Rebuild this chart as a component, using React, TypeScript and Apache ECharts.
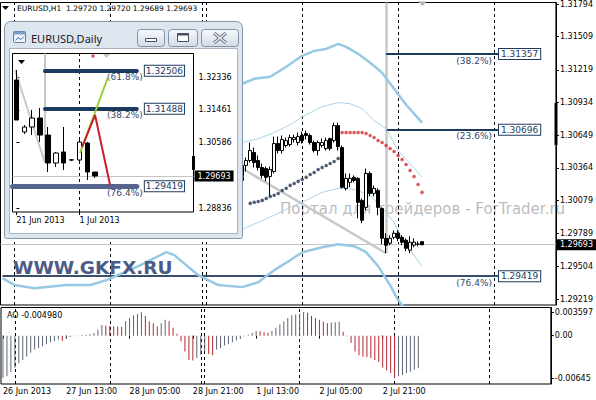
import React, { useEffect, useRef } from "react";
import * as echarts from "echarts";

const FONT = "DejaVu Sans";

// ---------------- Main EURUSD,H1 chart ----------------
const MAIN_SLOTS = 139; // 4px per hourly bar incl. right shift
const FIRST_BAR = 60; // bars before this are hidden behind the Daily window
const HEADER = "EURUSD,H1  1.29720 1.29720 1.29689 1.29693";
const TIME_LABELS = ["26 Jun 2013", "27 Jun 13:00", "28 Jun 05:00", "28 Jun 21:00", "1 Jul 13:00", "2 Jul 05:00", "2 Jul 21:00"];
const LABEL_STEP = 16;
const DAY_SEPARATORS = [3, 27, 50, 51, 75, 99, 123];
const PRICE_TICKS = [1.31794, 1.31509, 1.31219, 1.30934, 1.30649, 1.30364, 1.30079, 1.29789, 1.29504, 1.29219];
const PRICE_MIN = 1.29167;
const PRICE_MAX = 1.31807;
const LAST_PRICE = 1.29693;

// [open, close, low, high] for bars 60..105
const CANDLES = [
  [1.30385, 1.30254, 1.30194, 1.30446],
  [1.30385, 1.30428, 1.30332, 1.30454],
  [1.30428, 1.30515, 1.30411, 1.30585],
  [1.30498, 1.30411, 1.30367, 1.30541],
  [1.30428, 1.30367, 1.30341, 1.30472],
  [1.30367, 1.30298, 1.30272, 1.30402],
  [1.30358, 1.30281, 1.30246, 1.30376],
  [1.30289, 1.30350, 1.30115, 1.30376],
  [1.30332, 1.30576, 1.30315, 1.30637],
  [1.30576, 1.30515, 1.30489, 1.30637],
  [1.30515, 1.30611, 1.30489, 1.30646],
  [1.30559, 1.30602, 1.30541, 1.30628],
  [1.30567, 1.30628, 1.30550, 1.30654],
  [1.30611, 1.30628, 1.30585, 1.30654],
  [1.30585, 1.30637, 1.30559, 1.30672],
  [1.30646, 1.30602, 1.30576, 1.30680],
  [1.30663, 1.30646, 1.30611, 1.30689],
  [1.30646, 1.30585, 1.30567, 1.30663],
  [1.30585, 1.30515, 1.30498, 1.30602],
  [1.30515, 1.30585, 1.30472, 1.30602],
  [1.30559, 1.30585, 1.30541, 1.30619],
  [1.30532, 1.30602, 1.30515, 1.30628],
  [1.30619, 1.30532, 1.30515, 1.30628],
  [1.30602, 1.30733, 1.30585, 1.30759],
  [1.30733, 1.30550, 1.30515, 1.30759],
  [1.30541, 1.30194, 1.30185, 1.30559],
  [1.30185, 1.30272, 1.30167, 1.30315],
  [1.30237, 1.30272, 1.30194, 1.30315],
  [1.30281, 1.30254, 1.30237, 1.30298],
  [1.30272, 1.30063, 1.29923, 1.30281],
  [1.30080, 1.29906, 1.29880, 1.30097],
  [1.30019, 1.30315, 1.29993, 1.30358],
  [1.30315, 1.30141, 1.30115, 1.30332],
  [1.30141, 1.30185, 1.30115, 1.30211],
  [1.30167, 1.30019, 1.29950, 1.30185],
  [1.30010, 1.29749, 1.29697, 1.30019],
  [1.29749, 1.29689, 1.29619, 1.29793],
  [1.29706, 1.29749, 1.29689, 1.29776],
  [1.29758, 1.29793, 1.29741, 1.29819],
  [1.29793, 1.29749, 1.29723, 1.29819],
  [1.29758, 1.29715, 1.29689, 1.29776],
  [1.29732, 1.29662, 1.29636, 1.29749],
  [1.29645, 1.29715, 1.29619, 1.29767],
  [1.29689, 1.29715, 1.29671, 1.29749],
  [1.29697, 1.29700, 1.29680, 1.29723],
  [1.29720, 1.29693, 1.29689, 1.29720],
];

// Parabolic SAR
const SAR_BELOW_START = 62;
const SAR_BELOW = [1.30054, 1.30063, 1.30071, 1.30080, 1.30097, 1.30115, 1.30124, 1.30141, 1.30167, 1.30185, 1.30211, 1.30228, 1.30246, 1.30263, 1.30281, 1.30306, 1.30324, 1.30350, 1.30367, 1.30385, 1.30402, 1.30419, 1.30446];
const SAR_ABOVE_START = 85;
const SAR_ABOVE = [1.30672, 1.30672, 1.30672, 1.30672, 1.30672, 1.30672, 1.30663, 1.30646, 1.30628, 1.30602, 1.30585, 1.30559, 1.30532, 1.30506, 1.30472, 1.30437, 1.30394, 1.30341, 1.30289, 1.30219, 1.30150];
const SAR_ABOVE_EARLY = [[60, 1.30289]];

// Bollinger-type bands, [bar, price]
const BAND_UPPER_OUTER = [[60, 1.31098], [63, 1.31141], [67, 1.31159], [71, 1.31246], [75, 1.31342], [78, 1.31385], [81, 1.31402], [84, 1.31446], [86, 1.31420], [89, 1.31359], [92, 1.31281], [95, 1.31194], [98, 1.31054], [101, 1.30915], [103, 1.30837], [105, 1.30759]];
const BAND_UPPER_INNER = [[60, 1.30585], [64, 1.30619], [68, 1.30672], [72, 1.30741], [76, 1.30828], [80, 1.30898], [84, 1.30933], [87, 1.30924], [90, 1.30880], [93, 1.30776], [96, 1.30706], [99, 1.30515], [102, 1.30402], [105, 1.30281]];
const BAND_LOWER_INNER = [[60, 1.29828], [64, 1.29889], [68, 1.29950], [72, 1.30019], [76, 1.30080], [80, 1.30150], [84, 1.30185], [88, 1.30176], [92, 1.30124], [95, 1.30010], [98, 1.29889], [100, 1.29749], [102, 1.29645], [105, 1.29506]];
const BAND_LOWER_OUTER = [[0, 1.29401], [3, 1.29341], [8, 1.29314], [16, 1.29341], [22, 1.29341], [26, 1.29384], [34, 1.29506], [41, 1.29628], [43, 1.29602], [49, 1.29427], [54, 1.29341], [60, 1.29323], [64, 1.29366], [68, 1.29471], [72, 1.29558], [75, 1.29628], [80, 1.29671], [84, 1.29697], [88, 1.29680], [91, 1.29628], [94, 1.29506], [97, 1.29341], [99, 1.29210], [102, 1.29080], [105, 1.28966]];

// Fibonacci levels on the H1 chart
const FIB_LEVELS = [1.31357, 1.30696, 1.29419];
const FIB_PCTS = ["(38.2%)", "(23.6%)", "(76.4%)"];
const FIB_FROM = [96, 96, 0];
const FIB_TO = 124;
const FIB_PCT_TO = 123;
const GRAY_DIAGONAL = [[60, 1.30358], [96, 1.29619]];
const GRAY_VERTICAL = [[96, 1.31807], [96, 1.29619]];

// Awesome Oscillator, bars 0..105
const AO = [
  -0.0064, -0.0062, -0.0055, -0.0049, -0.0042, -0.0037, -0.0032, -0.0026, -0.0021, -0.0019,
  -0.0016, -0.0013, -0.001, -0.0008, -0.0006, -0.0008, -0.0004, -0.0002, -0.00008, 0.00003,
  0.00008, 0.00015, 0.00025, 0.0004, 0.0009, 0.0016, 0.00155, 0.0015, 0.00143, 0.00138,
  0.0013, 0.0022, 0.0027, 0.0031, 0.0033, 0.00355, 0.003, 0.0022, 0.0019, 0.0014,
  0.0019, 0.0024, 0.0022, 0.0012, 0.0003, -0.0009, -0.0024, -0.0037, -0.0038, -0.0034,
  -0.0029, -0.0024, -0.0028, -0.003, -0.0021, -0.0019, -0.0015, -0.0013, -0.001, -0.0007,
  -0.0005, -0.0001, 0.00015, 0.0004, 0.0007, 0.00065, 0.0005, 0.0004, 0.0007, 0.0012,
  0.0017, 0.0022, 0.0027, 0.0031, 0.0032, 0.0033, 0.003597, 0.0035, 0.003, 0.0027,
  0.0024, 0.0021, 0.0019, 0.002, 0.00205, 0.0021, 0.0006, -0.0001, -0.0011, -0.0024,
  -0.003, -0.0032, -0.0033, -0.0034, -0.0037, -0.004, -0.0049, -0.0053, -0.0057, -0.00645,
  -0.0062, -0.006, -0.0057, -0.0055, -0.0052, -0.00498,
];
const AO_MIN = -0.007363;
const AO_MAX = 0.004282;
const AO_TICKS = [0.003597, 0, -0.00645];
const AO_TICK_LABELS = ["0.003597", "0.00", "-0.00645"];
const AO_TITLE = "AO -0.004980";

// ---------------- Inset EURUSD,Daily chart ----------------
const INSET_SLOTS = 23;
const INSET_TIME_LABELS: Record<number, string> = { 0: "21 Jun 2013", 8: "1 Jul 2013" };
const INSET_SEPARATOR = 8;
const INSET_TICKS = [1.32336, 1.31461, 1.30586, 1.28836];
const INSET_MIN = 1.28732;
const INSET_MAX = 1.32964;
const INSET_CANDLES = [
  [1.32256, 1.31188, 1.31188, 1.32523],
  [1.30868, 1.31001, 1.30814, 1.31054],
  [1.31001, 1.31241, 1.30787, 1.31455],
  [1.31241, 1.30787, 1.30601, 1.31508],
  [1.30787, 1.3004, 1.298, 1.31001],
  [1.3004, 1.30307, 1.29933, 1.30334],
  [1.30334, 1.3004, 1.29853, 1.31001],
  [1.3012, 1.30125, 1.30093, 1.30147],
  [1.3012, 1.30601, 1.30067, 1.30708],
  [1.30574, 1.298, 1.29586, 1.30601],
  [1.298, 1.29693, 1.2964, 1.298],
];
const INSET_FIB_LEVELS = [1.32506, 1.31488, 1.29419];
const INSET_FIB_PCTS = ["(61.8%)", "(38.2%)", "(76.4%)"];
const INSET_FIB_FROM = [3.63, 3.63, -0.5];
const INSET_FIB_TO = 15.3;
const INSET_FIB_PCT_TO = 16.3;
const INSET_RED = [[8.34, 1.30467], [9.99, 1.31321], [11.9, 1.29452]];
const INSET_GREEN = [[8.08, 1.30307], [11.64, 1.32336]];
const INSET_GRAY_DIAGONAL = [[-0.18, 1.32523], [3.63, 1.3004]];
const INSET_GRAY_VERTICAL = [[3.63, 1.32964], [3.63, 1.3004]];
const INSET_SAR = [[9.73, 1.32897]];

const NAVY = "#1c3a5e";
const AO_UP = "#5d6675";
const AO_DOWN = "#b8282e";
const CLEAR = "rgba(0,0,0,0)";

function buildOption() {
  const catsMain = Array.from({ length: MAIN_SLOTS }, (_, i) => String(i));
  const catsInset = Array.from({ length: INSET_SLOTS }, (_, i) => String(i));

  const mainCandles: any[] = [];
  for (let i = 0; i < FIRST_BAR; i++) mainCandles.push(["-", "-", "-", "-"]);
  CANDLES.forEach((c) => mainCandles.push(c));

  const aoData = AO.map((v, i) => ({
    value: v,
    itemStyle: { color: i > 0 && v < AO[i - 1] ? AO_DOWN : AO_UP },
  }));

  const sarBelow = SAR_BELOW.map((v, i) => [SAR_BELOW_START + i, v]);
  const sarAbove = SAR_ABOVE_EARLY.concat(SAR_ABOVE.map((v, i) => [SAR_ABOVE_START + i, v]));

  const sepLines = DAY_SEPARATORS.map((b) => ({
    xAxis: b,
    lineStyle: { color: "#000", width: 1, type: [3, 3] },
    label: { show: false },
  }));

  const fibMain: any[] = [];
  FIB_LEVELS.forEach((lv, k) => {
    fibMain.push([
      {
        coord: [FIB_FROM[k], lv],
        lineStyle: { color: k === 2 ? "#3b4d6d" : NAVY, width: 2, type: "solid" },
        label: {
          show: true, position: "end", distance: 1, formatter: lv.toFixed(5),
          color: NAVY, fontFamily: FONT, fontSize: 9, backgroundColor: "#fff",
          borderColor: NAVY, borderWidth: 1, padding: [1, 2, 0, 2],
        },
      },
      { coord: [FIB_TO, lv] },
    ]);
    fibMain.push([
      {
        coord: [FIB_FROM[k], lv],
        lineStyle: { color: CLEAR, width: 1, type: "solid" },
        label: {
          show: true, position: "insideEndBottom", distance: 2, formatter: FIB_PCTS[k],
          color: "#34486a", fontFamily: FONT, fontSize: 9,
        },
      },
      { coord: [FIB_PCT_TO, lv] },
    ]);
  });

  const fibInset: any[] = [];
  INSET_FIB_LEVELS.forEach((lv, k) => {
    fibInset.push([
      {
        coord: [INSET_FIB_FROM[k], lv],
        lineStyle: { color: k === 2 ? "#56658e" : NAVY, width: k === 2 ? 5 : 4, type: "solid", cap: "round" },
        label: {
          show: true, position: "end", distance: 8, formatter: lv.toFixed(5),
          color: NAVY, fontFamily: FONT, fontSize: 9, backgroundColor: "#fff",
          borderColor: NAVY, borderWidth: 1, padding: [1, 1, 0, 1],
        },
      },
      { coord: [INSET_FIB_TO, lv] },
    ]);
    fibInset.push([
      {
        coord: [INSET_FIB_FROM[k], lv],
        lineStyle: { color: CLEAR, width: 1, type: "solid" },
        label: {
          show: true, position: "insideEndBottom", distance: 2, formatter: INSET_FIB_PCTS[k],
          color: "#34486a", fontFamily: FONT, fontSize: 9,
        },
      },
      { coord: [INSET_FIB_PCT_TO, lv] },
    ]);
  });

  const axisText = { color: "#000", fontFamily: FONT, fontSize: 8 };

  const btnFill = {
    type: "linear", x: 0, y: 0, x2: 0, y2: 1,
    colorStops: [{ offset: 0, color: "#f7f9fb" }, { offset: 1, color: "#d3dbe6" }],
  };

  const graphic: any[] = [
    // header of main chart
    { type: "polygon", shape: { points: [[2, 6], [9, 6], [5.5, 10]] }, style: { fill: "#000" }, z: 30 },
    { type: "text", x: 17, y: 8, style: { text: HEADER, fill: "#000", font: `7.5px '${FONT}'`, textVerticalAlign: "middle" }, z: 30 },
    // chart shift marker
    { type: "polygon", shape: { points: [[418, 1.5], [427, 1.5], [422.5, 6]] }, style: { fill: "#b4b4b4" }, z: 30 },
    // black mark on the price scale
    { type: "rect", shape: { x: 554.5, y: 103, width: 3, height: 42 }, style: { fill: "#000" }, z: 30 },
    // watermarks
    { type: "text", x: 280, y: 209, style: { text: "Портал для трейдеров - ForTrader.ru", fill: "rgba(130,130,130,0.55)", font: `15px '${FONT}'`, textVerticalAlign: "middle" }, z: 1 },
    { type: "text", x: 13, y: 267, style: { text: "WWW.GKFX.RU", fill: "#4b5b86", font: `bold 18.5px '${FONT}'`, textVerticalAlign: "middle" }, z: 6 },
    { type: "text", x: 7, y: 315, style: { text: AO_TITLE, fill: "#000", font: `8px '${FONT}'`, textVerticalAlign: "middle" }, z: 30 },
    // inset window
    { type: "rect", shape: { x: 4.5, y: 21.5, width: 238, height: 217, r: [6, 6, 2, 2] }, style: { fill: "#dde5ef", stroke: "#8795a9", lineWidth: 1 }, z: 10 },
    { type: "rect", shape: { x: 9.5, y: 48.5, width: 228, height: 185 }, style: { fill: "#fff", stroke: "#a9b3c1", lineWidth: 1 }, z: 10 },
    { type: "rect", shape: { x: 13.5, y: 31.5, width: 12, height: 11, r: 1 }, style: { fill: "#eef4fb", stroke: "#5f7fa6", lineWidth: 1 }, z: 12 },
    { type: "rect", shape: { x: 13.5, y: 31.5, width: 12, height: 3 }, style: { fill: "#7b9cc4" }, z: 12 },
    { type: "polyline", shape: { points: [[15.5, 40.5], [18, 37.5], [21, 39.5], [24, 36.5]] }, style: { stroke: "#3d6fb0", lineWidth: 1, fill: null }, z: 12 },
    { type: "text", x: 31, y: 38, style: { text: "EURUSD,Daily", fill: "#1a1a1a", font: `11px 'Noto Sans'`, textVerticalAlign: "middle" }, z: 12 },
    { type: "rect", shape: { x: 137.5, y: 29.5, width: 27, height: 17, r: 3 }, style: { fill: btnFill, stroke: "#8492a6", lineWidth: 1 }, z: 12 },
    { type: "rect", shape: { x: 168.5, y: 29.5, width: 29, height: 17, r: 3 }, style: { fill: btnFill, stroke: "#8492a6", lineWidth: 1 }, z: 12 },
    { type: "rect", shape: { x: 201.5, y: 29.5, width: 37, height: 17, r: 3 }, style: { fill: btnFill, stroke: "#8492a6", lineWidth: 1 }, z: 12 },
    { type: "rect", shape: { x: 145.5, y: 38.5, width: 11, height: 3 }, style: { fill: "#fff", stroke: "#44505f", lineWidth: 1 }, z: 13 },
    { type: "rect", shape: { x: 177.5, y: 33.5, width: 11, height: 8 }, style: { fill: "#fff", stroke: "#44505f", lineWidth: 1 }, z: 13 },
    { type: "rect", shape: { x: 177.5, y: 33.5, width: 11, height: 2 }, style: { fill: "#44505f" }, z: 13 },
    { type: "line", shape: { x1: 214, y1: 33, x2: 226, y2: 43 }, style: { stroke: "#6f7b8b", lineWidth: 3.4 }, z: 13 },
    { type: "line", shape: { x1: 226, y1: 33, x2: 214, y2: 43 }, style: { stroke: "#6f7b8b", lineWidth: 3.4 }, z: 13 },
    { type: "line", shape: { x1: 214, y1: 33, x2: 226, y2: 43 }, style: { stroke: "#eef1f5", lineWidth: 1.2 }, z: 14 },
    { type: "line", shape: { x1: 226, y1: 33, x2: 214, y2: 43 }, style: { stroke: "#eef1f5", lineWidth: 1.2 }, z: 14 },
    { type: "polygon", shape: { points: [[18, 60], [25, 60], [21.5, 64]] }, style: { fill: "#000" }, z: 30 },
    { type: "polygon", shape: { points: [[103, 54], [110, 54], [106.5, 58]] }, style: { fill: "#c4c4c4" }, z: 30 },
    { type: "rect", shape: { x: 192, y: 156, width: 3, height: 14 }, style: { fill: "#000" }, z: 30 },
  ];

  const lastPriceLabel = {
    show: true, position: "end", distance: 1, formatter: LAST_PRICE.toFixed(5),
    backgroundColor: "#000", color: "#fff", fontFamily: FONT, fontSize: 8, padding: [2, 3, 1, 3],
  };

  return {
    animation: false,
    backgroundColor: "#fff",
    tooltip: { show: false },
    graphic,
    grid: [
      { left: 0.5, top: 1.5, width: 556, height: 303.5, show: true, borderColor: "#000", borderWidth: 1, backgroundColor: "transparent" },
      { left: 0.5, top: 307.5, width: 556, height: 76.5, show: true, borderColor: "#000", borderWidth: 1, backgroundColor: "transparent" },
      { left: 12.5, top: 53.5, width: 181, height: 158.5, show: true, borderColor: "#000", borderWidth: 1, backgroundColor: "transparent", z: 15 },
    ],
    xAxis: [
      { type: "category", gridIndex: 0, data: catsMain, axisLine: { show: false }, axisTick: { show: false }, axisLabel: { show: false }, splitLine: { show: false } },
      {
        type: "category", gridIndex: 1, data: catsMain, axisLine: { show: false },
        axisTick: { show: true, length: 3, alignWithLabel: true, interval: (i: number) => i % LABEL_STEP === 0 && i / LABEL_STEP < TIME_LABELS.length, lineStyle: { color: "#000" } },
        axisLabel: { ...axisText, interval: 0, margin: 3, align: "left", formatter: (_v: string, i: number) => (i % LABEL_STEP === 0 && TIME_LABELS[i / LABEL_STEP]) || "" },
        splitLine: { show: false },
      },
      {
        type: "category", gridIndex: 2, data: catsInset, z: 16, axisLine: { show: false },
        axisTick: { show: true, length: 3, alignWithLabel: true, interval: (i: number) => INSET_TIME_LABELS[i] !== undefined, lineStyle: { color: "#000" } },
        axisLabel: { ...axisText, interval: 0, margin: 4, align: "left", formatter: (_v: string, i: number) => INSET_TIME_LABELS[i] || "" },
        splitLine: { show: false },
      },
      { type: "value", gridIndex: 2, position: "top", min: -0.5, max: INSET_SLOTS - 0.5, show: false },
    ],
    yAxis: [
      {
        type: "value", gridIndex: 0, position: "right", min: PRICE_MIN, max: PRICE_MAX, splitLine: { show: false },
        axisLine: { show: true, lineStyle: { color: "#000" } },
        axisTick: { show: true, length: 3, customValues: PRICE_TICKS, lineStyle: { color: "#000" } },
        axisLabel: { ...axisText, margin: 4, customValues: PRICE_TICKS, formatter: (v: number) => v.toFixed(5) },
      },
      {
        type: "value", gridIndex: 1, position: "right", min: AO_MIN, max: AO_MAX, splitLine: { show: false },
        axisLine: { show: true, lineStyle: { color: "#000" } },
        axisTick: { show: true, length: 3, customValues: AO_TICKS, lineStyle: { color: "#000" } },
        axisLabel: { ...axisText, margin: 4, customValues: AO_TICKS, formatter: (v: number) => AO_TICK_LABELS[AO_TICKS.indexOf(v)] ?? String(v) },
      },
      {
        type: "value", gridIndex: 2, position: "right", min: INSET_MIN, max: INSET_MAX, z: 16, splitLine: { show: false },
        axisLine: { show: false },
        axisTick: { show: true, length: 3, customValues: INSET_TICKS, lineStyle: { color: "#000" } },
        axisLabel: { ...axisText, margin: 5, customValues: INSET_TICKS, formatter: (v: number) => v.toFixed(5) },
      },
    ],
    series: [
      {
        type: "candlestick", xAxisIndex: 0, yAxisIndex: 0, data: mainCandles, barWidth: 3, z: 4,
        itemStyle: { color: "#fff", color0: "#000", borderColor: "#000", borderColor0: "#000", borderWidth: 1 },
        markLine: {
          silent: true, symbol: ["none", "none"], z: 1, animation: false, precision: 6,
          data: [
            ...sepLines,
            { yAxis: LAST_PRICE, lineStyle: { color: "#c4c4c4", width: 1, type: "solid" }, label: lastPriceLabel },
            [{ coord: GRAY_DIAGONAL[0], lineStyle: { color: "#c8c8c8", width: 2.5, type: "solid" }, label: { show: false } }, { coord: GRAY_DIAGONAL[1] }],
            [{ coord: GRAY_VERTICAL[0], lineStyle: { color: "#c8c8c8", width: 2.5, type: "solid" }, label: { show: false } }, { coord: GRAY_VERTICAL[1] }],
            ...fibMain,
          ],
        },
      },
      { type: "line", xAxisIndex: 0, yAxisIndex: 0, data: BAND_UPPER_OUTER, showSymbol: false, symbol: "none", z: 3, lineStyle: { color: "#98c9e4", width: 2.5 } },
      { type: "line", xAxisIndex: 0, yAxisIndex: 0, data: BAND_LOWER_OUTER, showSymbol: false, symbol: "none", z: 3, lineStyle: { color: "#98c9e4", width: 2.5 } },
      { type: "line", xAxisIndex: 0, yAxisIndex: 0, data: BAND_UPPER_INNER, showSymbol: false, symbol: "none", z: 3, lineStyle: { color: "#a8d4ea", width: 1 } },
      { type: "line", xAxisIndex: 0, yAxisIndex: 0, data: BAND_LOWER_INNER, showSymbol: false, symbol: "none", z: 3, lineStyle: { color: "#a8d4ea", width: 1 } },
      { type: "scatter", xAxisIndex: 0, yAxisIndex: 0, data: sarBelow, symbol: "circle", symbolSize: 3.5, z: 5, itemStyle: { color: "#1f3550" } },
      { type: "scatter", xAxisIndex: 0, yAxisIndex: 0, data: sarAbove, symbol: "circle", symbolSize: 3.5, z: 5, itemStyle: { color: "#d12d2d" } },
      {
        type: "bar", xAxisIndex: 1, yAxisIndex: 1, data: aoData, barWidth: 1, z: 4,
        markLine: { silent: true, symbol: ["none", "none"], z: 1, animation: false, precision: 6, data: sepLines },
      },
      // inset Daily chart
      {
        type: "candlestick", xAxisIndex: 2, yAxisIndex: 2, data: INSET_CANDLES, barWidth: 5, z: 23,
        itemStyle: { color: "#fff", color0: "#000", borderColor: "#000", borderColor0: "#000", borderWidth: 1 },
        markLine: {
          silent: true, symbol: ["none", "none"], z: 20, animation: false, precision: 6,
          data: [
            { xAxis: INSET_SEPARATOR, lineStyle: { color: "#000", width: 1, type: [3, 3] }, label: { show: false } },
            { yAxis: LAST_PRICE, lineStyle: { color: "#c4c4c4", width: 1, type: "solid" }, label: lastPriceLabel },
          ],
        },
      },
      {
        type: "line", xAxisIndex: 3, yAxisIndex: 2, data: INSET_GRAY_DIAGONAL, symbol: "none", z: 21, lineStyle: { color: "#c8c8c8", width: 2 },
        markLine: { silent: true, symbol: ["none", "none"], z: 22, animation: false, precision: 6, data: fibInset },
      },
      { type: "line", xAxisIndex: 3, yAxisIndex: 2, data: INSET_GRAY_VERTICAL, symbol: "none", z: 21, lineStyle: { color: "#c8c8c8", width: 2 } },
      { type: "line", xAxisIndex: 3, yAxisIndex: 2, data: INSET_GREEN, symbol: "none", z: 24, lineStyle: { color: "#9acd32", width: 2 } },
      { type: "line", xAxisIndex: 3, yAxisIndex: 2, data: INSET_RED, symbol: "none", z: 24, lineStyle: { color: "#c8202a", width: 2 } },
      { type: "scatter", xAxisIndex: 3, yAxisIndex: 2, data: INSET_SAR, symbol: "circle", symbolSize: 3.5, z: 24, itemStyle: { color: "#d12d2d" } },
    ],
  };
}

export default function App() {
  const ref = useRef<HTMLDivElement>(null);
  useEffect(() => {
    if (!ref.current) return;
    const chart = echarts.init(ref.current, undefined, { renderer: "svg" });
    chart.setOption(buildOption() as any);
    return () => chart.dispose();
  }, []);
  return (
    <div
      ref={ref}
      style={{ position: "absolute", left: 0, top: 0, width: 596, height: 400, background: "#fff" }}
    />
  );
}
